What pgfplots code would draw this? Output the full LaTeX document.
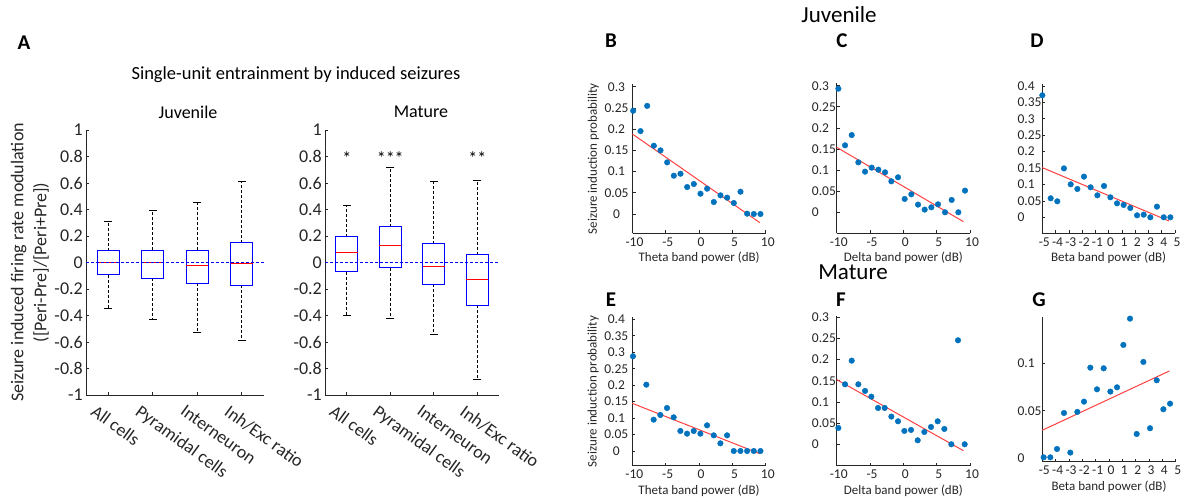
\documentclass[border=0pt]{standalone}
\usepackage{fontspec}
\setmainfont{Carlito}
\usepackage{pgfplots}
\pgfplotsset{compat=1.18}
\usepgfplotslibrary{statistics}
\definecolor{mblue}{RGB}{0,114,189}
\definecolor{fitred}{RGB}{255,64,64}
\definecolor{axgray}{RGB}{38,38,38}
\newcommand{\fs}[1]{\fontsize{#1}{#1}\selectfont}

\pgfplotsset{
  base/.style={
    scale only axis,
    axis x line*=bottom, axis y line*=left,
    x axis line style={-}, y axis line style={-},
    axis line style={axgray, line width=0.9pt},
    xtick pos=bottom, ytick pos=left,
    tick align=inside, major tick length=3pt,
    tick style={axgray, line width=0.7pt},
    clip=false,
  },
  boxax/.style={
    base, height=265pt, xmin=0.5, xmax=4.5, ymin=-1, ymax=1,
    xtick={1,2,3,4},
    xticklabels={All cells, Pyramidal cells, Interneuron, Inh/Exc ratio},
    ytick={-1,-0.8,-0.6,-0.4,-0.2,0,0.2,0.4,0.6,0.8,1},
    yticklabels={-1,-0.8,-0.6,-0.4,-0.2,0,0.2,0.4,0.6,0.8,1},
    tick label style={font=\fs{18}, text=axgray},
    yticklabel style={anchor=east, inner sep=0pt, xshift=-3pt},
    xticklabel style={inner sep=0pt, xshift=-11pt, yshift=-9pt, rotate=-36, anchor=north west},
    boxplot/draw direction=y,
    boxplot/box extend=0.5,
    boxplot/whisker extend=0,
    boxplot/every box/.style={draw=blue, line width=1.2pt},
    boxplot/every median/.style={draw=red, line width=1pt},
    boxplot/every whisker/.style={draw=black, densely dashed, line width=0.6pt},
  },
  caps/.style={black, only marks, mark=-, mark size=4pt, mark options={solid, line width=0.8pt}},
  scat/.style={
    base, width=133.3pt,
    tick label style={font=\fs{13.5}, text=axgray},
    xticklabel style={anchor=center, inner sep=0pt, yshift=-8.5pt, xshift=2pt},
    xlabel style={font=\fs{13}, text=axgray, at={(axis description cs:0.5,0)}, anchor=center, yshift=-25pt},
    ylabel style={font=\fs{13}, text=axgray, anchor=center},
  },
  tenx/.style={xmin=-10, xmax=10, xtick={-10,-5,0,5,10}, xticklabels={-10,-5,0,5,10}},
  fivex/.style={xmin=-5, xmax=5, xtick={-5,-4,-3,-2,-1,0,1,2,3,4,5}, xticklabels={-5,-4,-3,-2,-1,0,1,2,3,4,5}},
  ylc/.style={yticklabel style={anchor=center, inner sep=0pt, xshift=-16pt}},
  yll/.style={yticklabel style={anchor=west, inner sep=0pt, xshift=-25pt}},
  pts/.style={only marks, mark=*, mark size=2.8pt, color=mblue, mark options={fill=mblue, draw=mblue}},
  fit/.style={fitred, line width=1pt, no marks},
}

\begin{document}
\begin{tikzpicture}
\useasboundingbox (0pt,0pt) rectangle (1188pt,502pt);

% ---------- Panel A ----------
\node[font=\bfseries\fs{21}] at (24pt,459pt) {A};
\node[font=\fs{18.5}] at (296pt,427pt) {Single-unit entrainment by induced seizures};
\node[font=\fs{18}] at (188pt,390pt) {Juvenile};
\node[font=\fs{18}] at (421pt,390pt) {Mature};

\begin{axis}[boxax, width=178pt, at={(86pt,107pt)}, anchor=south west,
  ylabel={Seizure induced firing rate modulation\\([Peri-Pre]/[Peri+Pre])},
  ylabel style={align=center, font=\fontsize{18}{23}\selectfont, text=axgray, at={(axis description cs:-0.315,0.5)}, anchor=center}]
\addplot[boxplot prepared={draw position=1, lower whisker=-0.35, lower quartile=-0.093, median=0.0, upper quartile=0.088, upper whisker=0.31}] coordinates {};
\addplot[boxplot prepared={draw position=2, lower whisker=-0.43, lower quartile=-0.118, median=-0.003, upper quartile=0.093, upper whisker=0.39}] coordinates {};
\addplot[boxplot prepared={draw position=3, lower whisker=-0.53, lower quartile=-0.158, median=-0.02, upper quartile=0.093, upper whisker=0.45}] coordinates {};
\addplot[boxplot prepared={draw position=4, lower whisker=-0.588, lower quartile=-0.173, median=-0.01, upper quartile=0.15, upper whisker=0.61}] coordinates {};
\addplot[caps] coordinates {(1,-0.35) (1,0.31) (2,-0.43) (2,0.39) (3,-0.53) (3,0.45) (4,-0.588) (4,0.61)};
\addplot[blue, densely dashed, line width=0.8pt] coordinates {(0.5,0) (4.5,0)};
\end{axis}

\begin{axis}[boxax, width=174pt, at={(325pt,107pt)}, anchor=south west]
\addplot[boxplot prepared={draw position=1, lower whisker=-0.397, lower quartile=-0.068, median=0.075, upper quartile=0.196, upper whisker=0.43}] coordinates {};
\addplot[boxplot prepared={draw position=2, lower whisker=-0.42, lower quartile=-0.04, median=0.13, upper quartile=0.27, upper whisker=0.72}] coordinates {};
\addplot[boxplot prepared={draw position=3, lower whisker=-0.545, lower quartile=-0.166, median=-0.03, upper quartile=0.143, upper whisker=0.61}] coordinates {};
\addplot[boxplot prepared={draw position=4, lower whisker=-0.88, lower quartile=-0.324, median=-0.126, upper quartile=0.06, upper whisker=0.62}] coordinates {};
\addplot[caps] coordinates {(1,-0.397) (1,0.43) (2,-0.42) (2,0.72) (3,-0.545) (3,0.61) (4,-0.88) (4,0.62)};
\addplot[blue, densely dashed, line width=0.8pt] coordinates {(0.5,0) (4.5,0)};
\node[font=\fs{18}, anchor=base] at (axis cs:1,0.74) {*};
\node[font=\fs{18}, anchor=base] at (axis cs:2,0.74) {***};
\node[font=\fs{18}, anchor=base] at (axis cs:4,0.74) {**};
\end{axis}

% ---------- Headings ----------
\node[font=\fs{23}] at (839pt,487pt) {Juvenile};
\node[font=\fs{23}] at (853pt,230pt) {Mature};
\node[font=\bfseries\fs{21}] at (611pt,461pt) {B};
\node[font=\bfseries\fs{21}] at (842pt,461pt) {C};
\node[font=\bfseries\fs{21}] at (1037pt,461pt) {D};
\node[font=\bfseries\fs{21}] at (611pt,202pt) {E};
\node[font=\bfseries\fs{21}] at (841pt,202pt) {F};
\node[font=\bfseries\fs{21}] at (1039pt,202pt) {G};

% ---------- B ----------
\begin{axis}[scat, tenx, ylc, at={(632.5pt,268.7pt)}, anchor=south west, height=149pt,
  ymin=-0.0455, ymax=0.3059,
  ytick={0,0.05,0.1,0.15,0.2,0.25,0.3}, yticklabels={0,0.05,0.1,0.15,0.2,0.25,0.3},
  xlabel={Theta band power (dB)}, ylabel={Seizure induction probability},
  ylabel style={at={(axis description cs:-0.293,0.5)}}]
\addplot[pts] table {
x y
-9.9 0.2435
-8.8 0.1955
-7.8 0.255
-6.8 0.161
-5.8 0.150
-4.8 0.1217
-3.8 0.0903
-2.8 0.095
-1.8 0.0636
-0.8 0.0707
0.2 0.0479
1.2 0.0597
2.2 0.0283
3.2 0.044
4.2 0.0385
5.2 0.0259
6.2 0.0526
7.2 0.0008
8.2 0.0
9.2 0.0
};
\addplot[fit] coordinates {(-10,0.1885) (9.1,-0.0204)};
\end{axis}

% ---------- C ----------
\begin{axis}[scat, tenx, yll, at={(836.7pt,268.7pt)}, anchor=south west, height=150pt,
  ymin=-0.0498, ymax=0.3057,
  ytick={0,0.05,0.1,0.15,0.2,0.25,0.3}, yticklabels={0,0.05,0.1,0.15,0.2,0.25,0.3},
  xlabel={Delta band power (dB)}]
\addplot[pts] table {
x y
-9.75 0.293
-8.75 0.1587
-7.75 0.183
-6.75 0.1184
-5.75 0.0963
-4.75 0.1058
-3.75 0.101
-2.75 0.0947
-1.8 0.0734
-0.8 0.0829
0.2 0.0316
1.2 0.0426
2.2 0.0182
3.2 0.0063
4.2 0.0118
5.2 0.0189
6.25 0.0
7.25 0.0292
8.25 0.0
9.25 0.0513
};
\addplot[fit] coordinates {(-10,0.154) (9.0,-0.0221)};
\end{axis}

% ---------- D ----------
\begin{axis}[scat, fivex, yll, at={(1042.3pt,268.7pt)}, anchor=south west, width=132.7pt, height=149.3pt,
  ymin=-0.0487, ymax=0.4061,
  ytick={0,0.05,0.1,0.15,0.2,0.25,0.3,0.35,0.4}, yticklabels={0,0.05,0.1,0.15,0.2,0.25,0.3,0.35,0.4},
  xlabel={Beta band power (dB)}]
\addplot[pts] table {
x y
-5 0.3716
-4.37 0.0579
-3.87 0.0487
-3.37 0.149
-2.86 0.1005
-2.36 0.0863
-1.86 0.1239
-1.36 0.0914
-0.85 0.067
-0.35 0.0954
0.13 0.0609
0.63 0.0426
1.13 0.0376
1.63 0.0284
2.14 0.0061
2.64 0.0081
3.14 0.0
3.64 0.0325
4.15 0.0
4.65 0.0
};
\addplot[fit] coordinates {(-5,0.1513) (4.55,-0.0112)};
\end{axis}

% ---------- E ----------
\begin{axis}[scat, tenx, ylc, at={(632.3pt,36.3pt)}, anchor=south west, width=133.5pt, height=148.4pt,
  ymin=-0.0446, ymax=0.4061,
  ytick={0,0.05,0.1,0.15,0.2,0.25,0.3,0.35,0.4}, yticklabels={0,0.05,0.1,0.15,0.2,0.25,0.3,0.35,0.4},
  xlabel={Theta band power (dB)}, ylabel={Seizure induction probability},
  ylabel style={at={(axis description cs:-0.293,0.5)}}]
\addplot[pts] table {
x y
-9.9 0.2876
-7.9 0.2015
-6.8 0.0952
-5.8 0.1094
-4.8 0.1306
-3.8 0.1023
-2.8 0.0608
-1.8 0.0527
-0.8 0.0608
0.2 0.0527
1.2 0.078
2.2 0.0476
3.2 0.0233
4.2 0.0476
5.2 0.0
6.2 0.0
7.2 0.0
8.2 0.0
9.2 0.0
};
\addplot[fit] coordinates {(-10,0.1448) (9.1,-0.0081)};
\end{axis}

% ---------- F ----------
\begin{axis}[scat, tenx, yll, at={(836.7pt,36.3pt)}, anchor=south west, height=149.7pt,
  ymin=-0.0506, ymax=0.3031,
  ytick={0,0.05,0.1,0.15,0.2,0.25,0.3}, yticklabels={0,0.05,0.1,0.15,0.2,0.25,0.3},
  xlabel={Delta band power (dB)}]
\addplot[pts] table {
x y
-9.75 0.0386
-8.75 0.1417
-7.75 0.1976
-6.75 0.1417
-5.75 0.126
-4.8 0.1126
-3.8 0.0858
-2.8 0.0858
-1.8 0.0654
-0.8 0.0543
0.15 0.0315
1.15 0.0339
2.15 0.0094
3.15 0.0291
4.15 0.0409
5.15 0.0543
6.15 0.0362
7.2 0.0
8.2 0.2457
9.2 0.0
};
\addplot[fit] coordinates {(-10,0.1528) (9.0,-0.015)};
\end{axis}

% ---------- G ----------
\begin{axis}[scat, fivex, yll, at={(1042.3pt,40.3pt)}, anchor=south west, width=133.4pt, height=144.4pt,
  ymin=-0.0036, ymax=0.1484,
  ytick={0,0.05,0.1}, yticklabels={0,0.05,0.1},
  xlabel={Beta band power (dB)}]
\addplot[pts] table {
x y
-4.9 0.001
-4.4 0.001
-3.9 0.0098
-3.375 0.0477
-2.9 0.006
-2.375 0.0488
-1.875 0.0596
-1.4 0.0954
-0.9 0.0726
-0.4 0.0947
0.1 0.0702
0.6 0.0747
1.075 0.1193
1.575 0.147
2.075 0.0256
2.575 0.1014
3.075 0.0316
3.575 0.0821
4.075 0.0516
4.575 0.0575
};
\addplot[fit] coordinates {(-5,0.0295) (4.525,0.0919)};
\end{axis}
\end{tikzpicture}
\end{document}
